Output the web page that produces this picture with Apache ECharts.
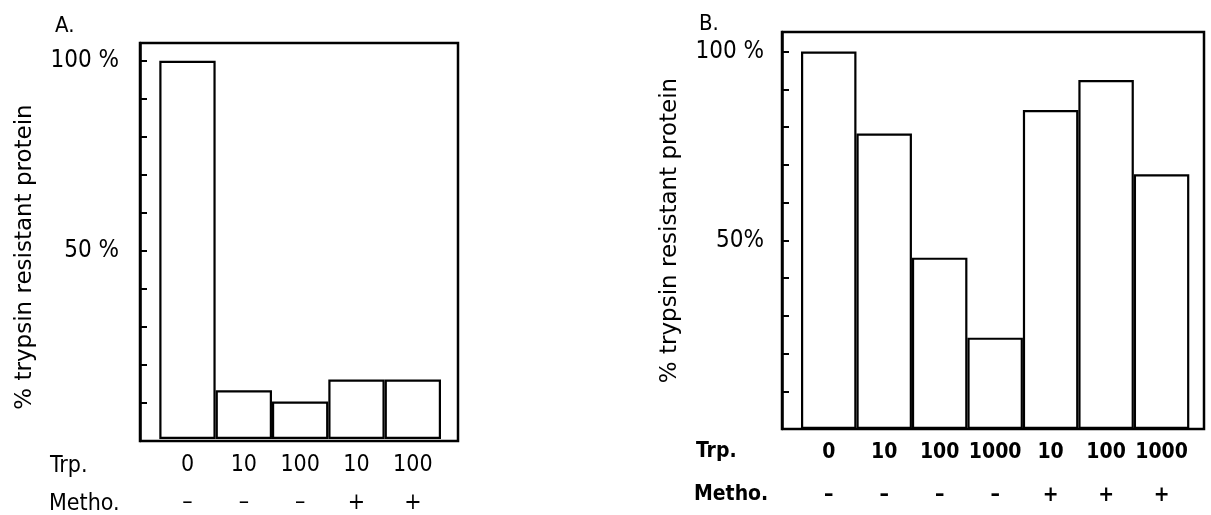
<!DOCTYPE html>
<html>
<head>
<meta charset="utf-8">
<script src="https://cdn.jsdelivr.net/npm/echarts@6/dist/echarts.min.js"></script>
<style>
  html, body { margin: 0; padding: 0; background: #fff; }
  #chart { width: 1211px; height: 515px; }
</style>
</head>
<body>
<div id="chart"></div>
<script>
// panel A
const trpA = ['0', '10', '100', '10', '100']
const methoA = ['–', '–', '–', '+', '+']
const valuesA = [100, 12.9, 9.9, 15.7, 15.7]

// panel B
const trpB = ['0', '10', '100', '1000', '10', '100', '1000']
const methoB = ['–', '–', '–', '–', '+', '+', '+']
const valuesB = [100, 78.3, 45.4, 24.2, 84.5, 92.5, 67.5]

// y tick labels (only these two are written)
const yLabelValues = [50, 100]
const yLabelsA = ['50 %', '100 %']
const yLabelsB = ['50%', '100 %']

const yTitle = '% trypsin resistant protein'
const FONT = '"DejaVu Sans Condensed", "DejaVu Sans", sans-serif'
const TITLE_FONT = '"DejaVu Sans", sans-serif'

const chart = echarts.init(document.getElementById('chart'))

// y axis of a framed panel
function frameYAxis(gridIndex, max, labels, nameGap, margin, namePad) {
    return {
        type: 'value', gridIndex: gridIndex, min: 0, max: max, interval: 10,
        axisLine: { show: true, lineStyle: { color: '#000', width: 2.5 } },
        axisTick: { show: true, inside: true, length: 7, lineStyle: { color: '#000', width: 2 } },
        splitLine: { show: false },
        axisLabel: {
            margin: margin, color: '#000', fontFamily: FONT, fontSize: 24,
            formatter: function (v) {
                const i = yLabelValues.indexOf(v)
                return i >= 0 ? labels[i] : ''
            }
        },
        name: yTitle, nameLocation: 'middle', nameGap: nameGap,
        nameTextStyle: { color: '#000', fontFamily: TITLE_FONT, fontSize: 23, padding: [0, namePad, 0, 0] }
    }
}

function catAxis(gridIndex, data, margin, offset, bold, size) {
    return {
        type: 'category', gridIndex: gridIndex, data: data, position: 'bottom', offset: offset,
        axisLine: { show: false }, axisTick: { show: false },
        axisLabel: { margin: margin, color: '#000', fontFamily: FONT, fontSize: size,
            fontWeight: bold ? 'bold' : 'normal', interval: 0 }
    }
}

const barStyle = { color: '#fff', borderColor: '#000', borderWidth: 2.2 }

chart.setOption({
    animation: false,
    backgroundColor: '#fff',
    title: [
        { text: 'A.', left: 50, top: 10, textStyle: { fontFamily: FONT, fontSize: 22, fontWeight: 'normal', color: '#000' } },
        { text: 'B.', left: 694, top: 8, textStyle: { fontFamily: FONT, fontSize: 22, fontWeight: 'normal', color: '#000' } }
    ],
    grid: [
        { left: 140, top: 43, width: 318, height: 398, show: true, borderColor: '#000', borderWidth: 2.5 },
        { left: 159.3, top: 43, width: 281.7, height: 398 },
        { left: 782, top: 32, width: 422, height: 397, show: true, borderColor: '#000', borderWidth: 2.5 },
        { left: 801, top: 32, width: 388.3, height: 397 }
    ],
    xAxis: [
        { type: 'value', gridIndex: 0, show: false },
        catAxis(1, trpA, 15, 0, false, 23),
        catAxis(1, methoA, 15, 38, false, 23),
        { type: 'value', gridIndex: 2, show: false },
        catAxis(3, trpB, 13, 0, true, 21),
        catAxis(3, methoB, 13, 43, true, 21)
    ],
    yAxis: [
        frameYAxis(0, 104.7, yLabelsA, 103, 21, 30),
        { type: 'value', gridIndex: 1, min: 0, max: 104.7, show: false },
        frameYAxis(2, 105.2, yLabelsB, 100, 18, 0),
        { type: 'value', gridIndex: 3, min: 0, max: 105.2, show: false }
    ],
    graphic: [
        { type: 'text', left: 50, top: 455, style: { text: 'Trp.', font: '23px ' + FONT, fill: '#000' } },
        { type: 'text', left: 49, top: 493, style: { text: 'Metho.', font: '23px ' + FONT, fill: '#000' } },
        { type: 'text', left: 696, top: 441, style: { text: 'Trp.', font: 'bold 21px ' + FONT, fill: '#000' } },
        { type: 'text', left: 694, top: 484, style: { text: 'Metho.', font: 'bold 21px ' + FONT, fill: '#000' } }
    ],
    series: [
        { type: 'bar', xAxisIndex: 1, yAxisIndex: 1, data: valuesA, barWidth: '100%', itemStyle: barStyle },
        { type: 'bar', xAxisIndex: 4, yAxisIndex: 3, data: valuesB, barWidth: '100%', itemStyle: barStyle }
    ]
})
</script>
</body>
</html>
